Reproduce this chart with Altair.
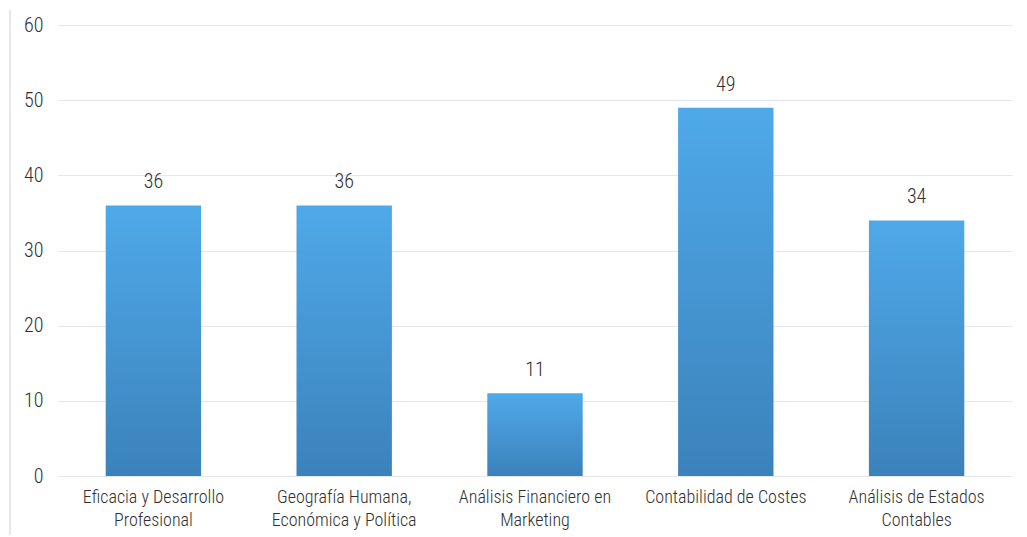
import altair as alt
import pandas as pd

categories = [
    "Eficacia y Desarrollo|Profesional",
    "Geografía Humana,|Económica y Política",
    "Análisis Financiero en|Marketing",
    "Contabilidad de Costes",
    "Análisis de Estados|Contables",
]
values = [36, 36, 11, 49, 34]
y_ticks = [0, 10, 20, 30, 40, 50, 60]

df = pd.DataFrame({"curso": categories, "valor": values})

FONT = "Roboto Condensed, Liberation Sans Narrow, Roboto, sans-serif"
TEXT = "#303030"

grad = alt.Gradient(
    gradient="linear",
    stops=[
        alt.GradientStop(color="#4fa9e9", offset=0),
        alt.GradientStop(color="#3b82bb", offset=1),
    ],
    x1=0, x2=0, y1=0, y2=1,
)

x = alt.X(
    "curso:N",
    sort=categories,
    scale=alt.Scale(paddingInner=0.5, paddingOuter=0.25),
    axis=alt.Axis(
        title=None, labelAngle=0, domain=False, ticks=False, grid=False,
        labelExpr="split(datum.label, '|')",
        labelFont=FONT, labelFontSize=18, labelFontWeight=300, labelColor=TEXT,
        labelPadding=12, labelLineHeight=23, labelLimit=300,
    ),
)
y = alt.Y(
    "valor:Q",
    scale=alt.Scale(domain=[0, 60], nice=False),
    axis=alt.Axis(
        title=None, values=y_ticks, domain=False, ticks=False,
        labelFont=FONT, labelFontSize=20, labelFontWeight=300, labelColor=TEXT,
        labelPadding=15, gridColor="#e4e7f0", gridWidth=1.2,
    ),
)

bars = alt.Chart(df).mark_bar(color=grad).encode(x=x, y=y)
labels = alt.Chart(df).mark_text(
    dy=-13, baseline="bottom", font=FONT, fontSize=20, fontWeight=300, color=TEXT
).encode(x=alt.X("curso:N", sort=categories), y="valor:Q", text="valor:Q")

border = alt.Chart(df).mark_rule(color="#e4e6ee", strokeWidth=1.5).encode(
    x=alt.value(-48), y=alt.value(-15), y2=alt.value(510)
)

chart = alt.layer(border, bars, labels).properties(
    width=954, height=451,
    background="white",
    autosize=alt.AutoSizeParams(type="none"),
    padding={"left": 58, "top": 25, "right": 15, "bottom": 61},
).configure_view(stroke="transparent", strokeWidth=0)

chart.save("out.html", embed_options={"renderer": "svg", "actions": False})
